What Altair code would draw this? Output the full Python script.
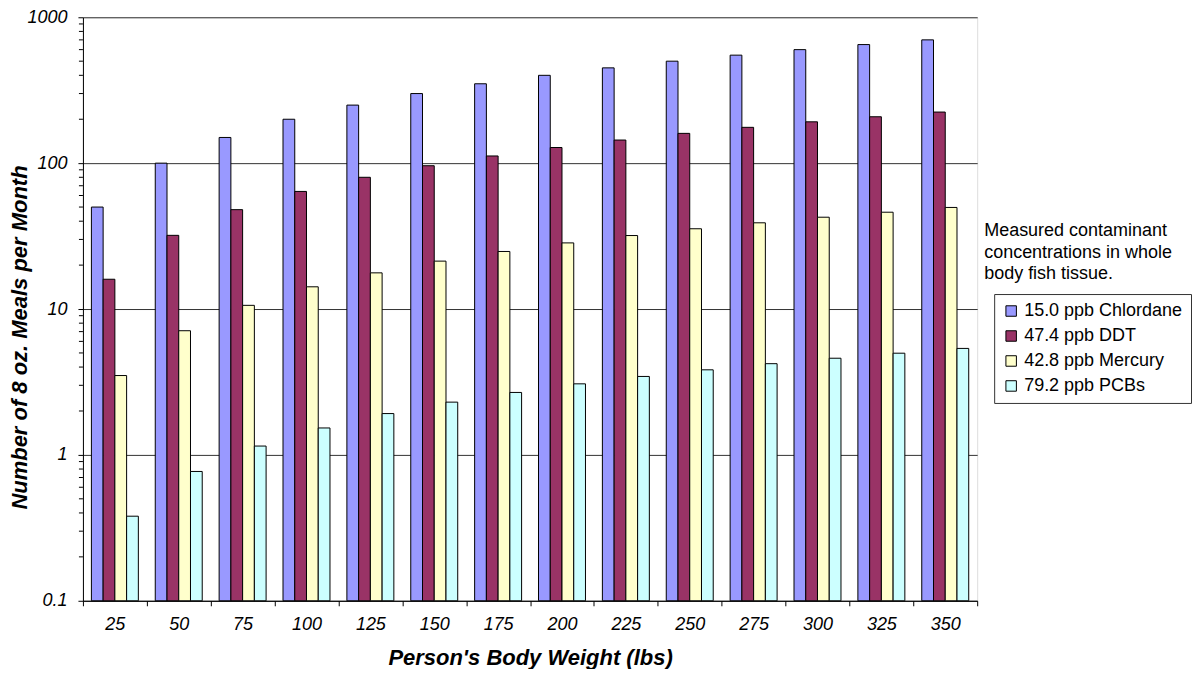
import altair as alt
import pandas as pd

weights = ["25", "50", "75", "100", "125", "150", "175", "200", "225", "250", "275", "300", "325", "350"]
series = ["15.0 ppb Chlordane", "47.4 ppb DDT", "42.8 ppb Mercury", "79.2 ppb PCBs"]
chlordane = [50, 100, 150, 200, 250, 300, 350, 400, 450, 500, 550, 600, 650, 700]
ddt = [16, 32, 48, 64, 80, 96, 112, 128, 144, 160, 176, 192, 208, 224]
mercury = [3.5, 7.1, 10.6, 14.2, 17.7, 21.3, 24.8, 28.4, 31.9, 35.5, 39.0, 42.6, 46.1, 49.7]
pcbs = [0.38, 0.77, 1.15, 1.53, 1.92, 2.30, 2.68, 3.07, 3.45, 3.83, 4.22, 4.60, 4.98, 5.37]
colors = ["#9999FF", "#993366", "#FFFFCC", "#CCFFFF"]
minor_ticks = [m * d for d in [0.1, 1, 10, 100] for m in range(2, 10)]
note = "Measured contaminant\nconcentrations in whole\nbody fish tissue."

rows = []
for s, vals in zip(series, [chlordane, ddt, mercury, pcbs]):
    for w, v in zip(weights, vals):
        rows.append({"weight": w, "series": s, "value": v})
df = pd.DataFrame(rows)

FONT = "Liberation Sans"

yscale = alt.Scale(type="log", domain=[0.1, 1000])

bars = alt.Chart(df).mark_bar(stroke="black", strokeWidth=1).encode(
    x=alt.X("weight:N", sort=weights,
            scale=alt.Scale(paddingInner=0, paddingOuter=0),
            axis=alt.Axis(title="Person's Body Weight (lbs)", labelAngle=0,
                          tickBand="extent", tickSize=5, tickColor="black",
                          domainColor="black", labelFont=FONT, labelFontSize=18,
                          labelFontStyle="italic", labelColor="black", labelPadding=10,
                          titleFont=FONT, titleFontSize=22, titleFontStyle="italic",
                          titleFontWeight="bold", titleColor="black", titlePadding=14)),
    xOffset=alt.XOffset("series:N", sort=series,
                        scale=alt.Scale(paddingInner=0, paddingOuter=0.72)),
    y=alt.Y("value:Q", scale=yscale,
            axis=alt.Axis(title="Number of 8 oz. Meals per Month",
                          values=[0.1, 1, 10, 100, 1000], format="~g",
                          grid=True, gridColor="#333333", gridWidth=1,
                          tickSize=5, tickColor="black", domainColor="black",
                          labelFont=FONT, labelFontSize=18, labelFontStyle="italic",
                          labelColor="black", labelPadding=11,
                          titleFont=FONT, titleFontSize=22, titleFontStyle="italic",
                          titleFontWeight="bold", titleColor="black",
                          titleX=-63, titleY=320, titleBaseline="middle")),
    y2=alt.datum(0.1),
    color=alt.Color("series:N", sort=series,
                    scale=alt.Scale(domain=series, range=colors),
                    legend=alt.Legend(title=None, orient="none", legendX=912, legendY=277,
                                      symbolType="square", symbolSize=110,
                                      symbolStrokeColor="black", symbolStrokeWidth=1,
                                      symbolOpacity=1,
                                      labelFont=FONT, labelFontSize=18, labelColor="black",
                                      labelLimit=300,
                                      rowPadding=7, padding=8, strokeColor="#333333",
                                      fillColor="white")),
)

minor = alt.Chart(pd.DataFrame({"v": minor_ticks})).mark_rule(color="black", strokeWidth=1).encode(
    y=alt.Y("v:Q", scale=yscale),
    x=alt.value(-4),
    x2=alt.value(0),
)

text = alt.Chart(pd.DataFrame({"t": [note]})).mark_text(
    align="left", baseline="top", lineBreak="\n", lineHeight=21.5,
    font=FONT, fontSize=18, color="black"
).encode(text="t:N", x=alt.value(902), y=alt.value(205))

chart = alt.layer(bars, minor, text).properties(
    width=895, height=584,
    padding={"top": 0, "left": 1, "right": 0, "bottom": 0},
).configure_view(stroke="#808080", strokeWidth=1).configure(background="white")

chart.save("out.html", embed_options={"renderer": "svg", "actions": False})
